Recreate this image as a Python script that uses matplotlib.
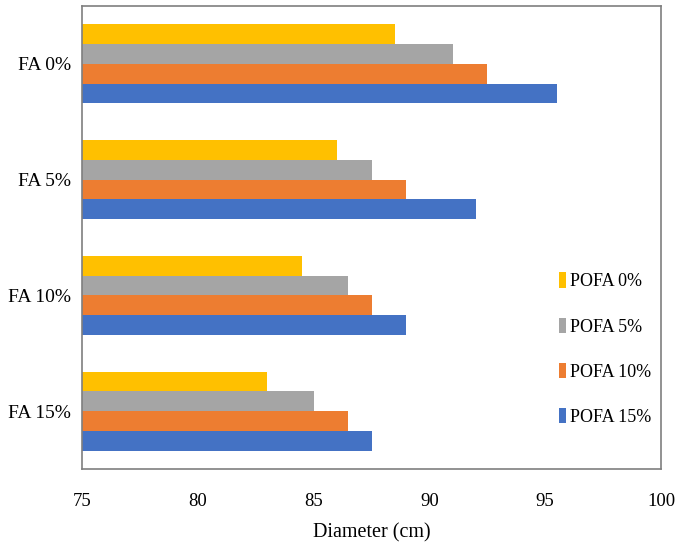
import matplotlib.pyplot as plt
import numpy as np

plt.rcParams['font.family'] = ['Liberation Serif', 'DejaVu Serif']

groups = ['FA 0%', 'FA 5%', 'FA 10%', 'FA 15%']
series = ['POFA 0%', 'POFA 5%', 'POFA 10%', 'POFA 15%']
colors = ['#FFC000', '#A5A5A5', '#ED7D31', '#4472C4']

# diameter (cm) for each FA group, one list per POFA level
pofa0 = [88.5, 86.0, 84.5, 83.0]
pofa5 = [91.0, 87.5, 86.5, 85.0]
pofa10 = [92.5, 89.0, 87.5, 86.5]
pofa15 = [95.5, 92.0, 89.0, 87.5]
values = [pofa0, pofa5, pofa10, pofa15]

fig = plt.figure(figsize=(6.84, 5.45), dpi=100)
ax = fig.add_axes([0.1199, 0.1394, 0.8465, 0.8496])

y = np.arange(len(groups))
h = 0.1705
for j in range(len(series)):
    ax.barh(y + (j - 1.5) * h, np.array(values[j]) - 75, height=h, left=75,
            color=colors[j], label=series[j])

ax.set_xlim(75, 100)
ax.set_ylim(len(groups) - 0.5, -0.5)
ax.set_xticks([75, 80, 85, 90, 95, 100])
ax.set_yticks(y)
ax.set_yticklabels(groups, fontsize=14)
ax.tick_params(axis='x', length=0, pad=17, labelsize=13.5)
ax.tick_params(axis='y', length=0, pad=8)
for s in ax.spines.values():
    s.set_color('#7f7f7f')
    s.set_linewidth(1.2)

ax.set_xlabel('Diameter (cm)', fontsize=14.5, labelpad=10)

ax.legend(loc='center left', bbox_to_anchor=(0.795, 0.259), frameon=False,
          fontsize=13, handlelength=0.4, handleheight=0.95, handletextpad=0.25,
          labelspacing=1.5)

fig.savefig('out.png', dpi=100)
